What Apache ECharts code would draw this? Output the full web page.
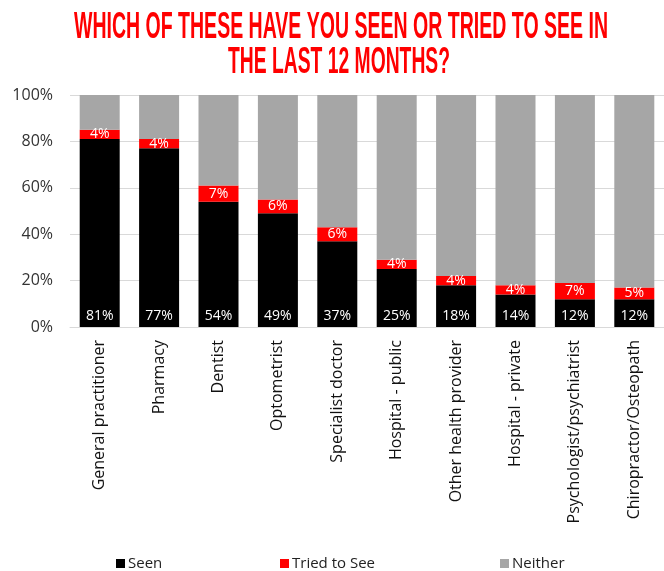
<!DOCTYPE html>
<html>
<head>
<meta charset="utf-8">
<script src="https://cdn.jsdelivr.net/npm/echarts@6/dist/echarts.min.js"></script>
<style>
  html, body { margin: 0; padding: 0; background: #fff; }
  #chart { width: 664px; height: 571px; }
</style>
</head>
<body>
<div id="chart"></div>
<script>
// Health services seen / tried to see in the last 12 months (% of respondents)
const categories = [
  'General practitioner', 'Pharmacy', 'Dentist', 'Optometrist', 'Specialist doctor',
  'Hospital - public', 'Other health provider', 'Hospital - private',
  'Psychologist/psychiatrist', 'Chiropractor/Osteopath'
];
const seen = [81, 77, 54, 49, 37, 25, 18, 14, 12, 12];
const triedToSee = [4, 4, 7, 6, 6, 4, 4, 4, 7, 5];
const neither = seen.map((v, i) => 100 - v - triedToSee[i]);
const yTicks = [0, 20, 40, 60, 80, 100];
const titleLines = ['WHICH OF THESE HAVE YOU SEEN OR TRIED TO SEE IN', 'THE LAST 12 MONTHS?'];

const TITLE_FONT = 'bold 36px "Liberation Sans Narrow", "Liberation Sans", sans-serif';
const TEXT_FONT = '"Open Sans", "Noto Sans", sans-serif';

// squeeze the bold title into a condensed look
const measureCtx = document.createElement('canvas').getContext('2d');
measureCtx.font = TITLE_FONT;
function squeeze(text, targetWidth) {
  return targetWidth / measureCtx.measureText(text).width;
}

const chart = echarts.init(document.getElementById('chart'), null, { renderer: 'canvas' });

const labelWhite = { color: '#fff', fontFamily: TEXT_FONT, fontSize: 14 };

chart.setOption({
  animation: false,
  backgroundColor: '#fff',
  graphic: [
    {
      type: 'text', x: 341, y: 28, scaleX: squeeze(titleLines[0], 534),
      style: { text: titleLines[0], font: TITLE_FONT, fill: '#ff0000', align: 'center', verticalAlign: 'middle' }
    },
    {
      type: 'text', x: 339, y: 63, scaleX: squeeze(titleLines[1], 222),
      style: { text: titleLines[1], font: TITLE_FONT, fill: '#ff0000', align: 'center', verticalAlign: 'middle' }
    }
  ],
  legend: ['Seen', 'Tried to See', 'Neither'].map((name, i) => ({
    data: [name],
    left: [116, 280, 500][i],
    top: 556,
    padding: 0,
    icon: 'rect',
    itemWidth: 9,
    itemHeight: 9,
    itemGap: 0,
    selectedMode: false,
    textStyle: { fontFamily: TEXT_FONT, fontSize: 15, color: '#222', padding: [0, 0, 0, -2] }
  })),
  grid: { left: 70, top: 95, width: 600, height: 232, containLabel: false },
  xAxis: {
    type: 'category',
    data: categories,
    axisTick: { show: false },
    axisLine: { lineStyle: { color: '#d9d9d9', width: 1 } },
    axisLabel: {
      rotate: 90, interval: 0, margin: 13,
      fontFamily: TEXT_FONT, fontSize: 16, color: '#111'
    }
  },
  yAxis: {
    type: 'value',
    min: yTicks[0], max: yTicks[yTicks.length - 1], interval: 20,
    axisLine: { show: false },
    axisTick: { show: false },
    splitLine: { lineStyle: { color: '#d9d9d9', width: 1 } },
    axisLabel: {
      margin: 17, fontFamily: TEXT_FONT, fontSize: 16, color: '#333',
      formatter: v => v + '%'
    }
  },
  series: [
    {
      name: 'Seen', type: 'bar', stack: 'all', data: seen, barWidth: 40,
      itemStyle: { color: '#000000' },
      label: { show: true, position: 'insideBottom', distance: 4, formatter: '{c}%', ...labelWhite }
    },
    {
      name: 'Tried to See', type: 'bar', stack: 'all', data: triedToSee, barWidth: 40,
      itemStyle: { color: '#ff0000' },
      label: { show: true, position: 'inside', formatter: '{c}%', ...labelWhite }
    },
    {
      name: 'Neither', type: 'bar', stack: 'all', data: neither, barWidth: 40,
      itemStyle: { color: '#a6a6a6' },
      label: { show: false }
    }
  ]
});
</script>
</body>
</html>
